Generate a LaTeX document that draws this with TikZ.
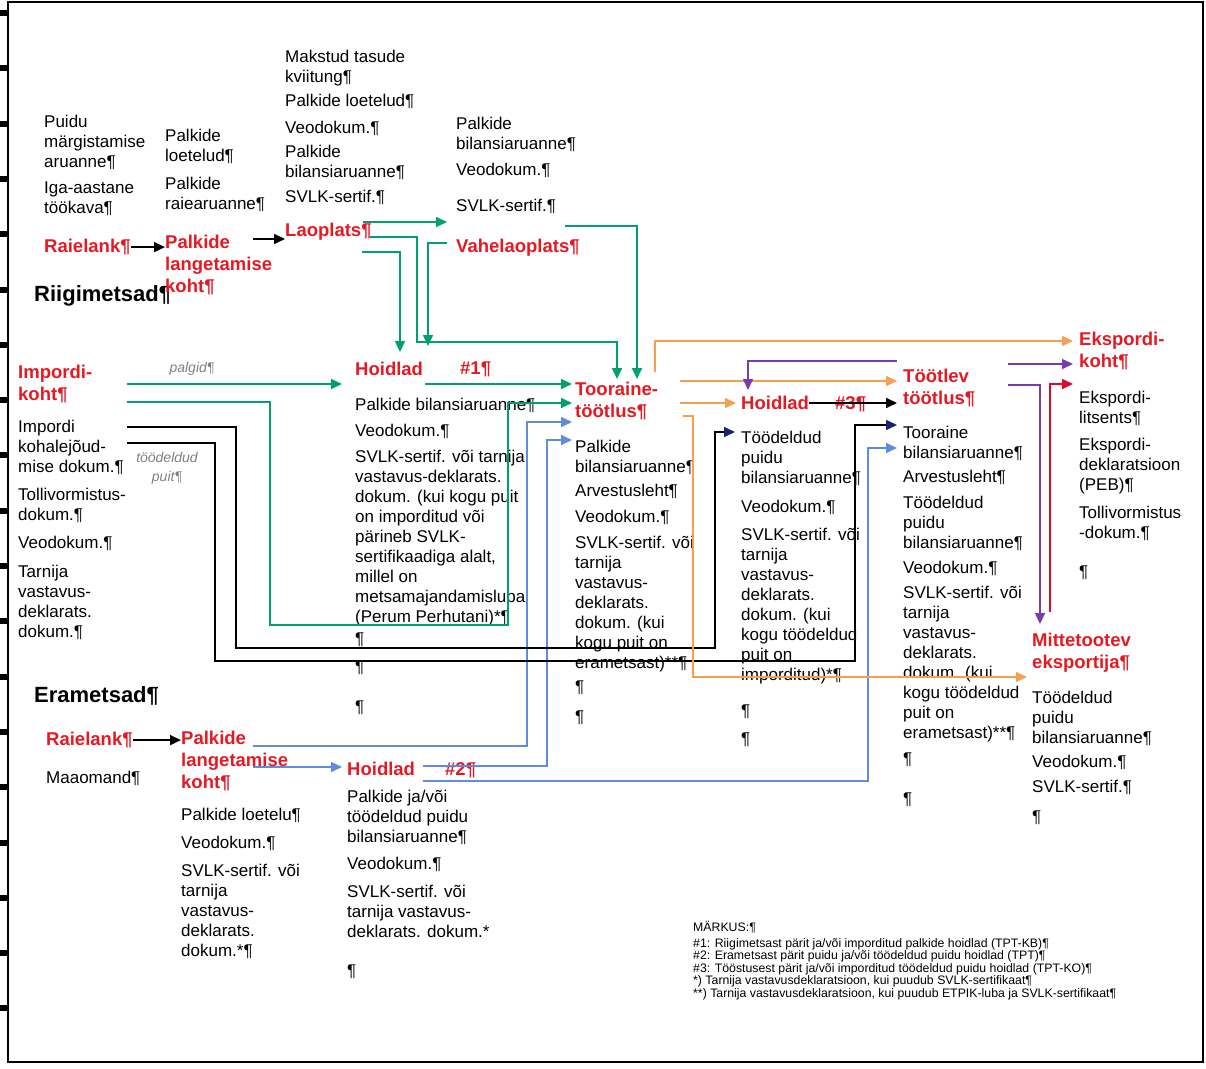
\documentclass[tikz,border=0pt]{standalone}
\usepackage{fontspec}
\setmainfont{Liberation Sans}
\usetikzlibrary{arrows.meta,calc}
\definecolor{lblred}{RGB}{230,25,35}
\definecolor{flowgreen}{RGB}{0,160,112}
\definecolor{flowblue}{RGB}{95,140,225}
\definecolor{floworange}{RGB}{245,160,80}
\definecolor{flowpurple}{RGB}{120,60,175}
\definecolor{flownavy}{RGB}{25,35,105}
\definecolor{flowred}{RGB}{220,10,40}
\tikzset{
  doc/.style={anchor=north west, inner sep=0pt, align=left, font=\fontsize{17}{20}\selectfont},
  site/.style={doc, text=lblred, font=\fontsize{18.5}{22}\selectfont\bfseries},
  owner/.style={doc, font=\fontsize{22}{24}\selectfont\bfseries},
  goods/.style={anchor=north, inner sep=0pt, align=center, text=gray, font=\fontsize{14}{19}\selectfont\itshape},
  remark/.style={doc, font=\fontsize{12.3}{12.5}\selectfont},
  flow/.style={line width=1.6pt, -{Triangle[length=11pt,width=10pt]}},
}
\begin{document}
\begin{tikzpicture}[x=1pt,y=-1pt]
\useasboundingbox (0,0) rectangle (1206,1068);
\draw[line width=1.5pt] (8,2) rectangle (1203,1062);
\foreach \i in {0,...,18}
  \fill (0,{10+55.3*\i}) rectangle (7,{16+55.3*\i});

% riigimetsad
\node[doc] (puidumark) at (44,115) {Puidu\\märgistamise\\aruanne¶};
\node[doc] (tookava) at (44,182) {Iga-aastane\\töökava¶};
\node[site] (raielankR) at (44,239) {Raielank¶};
\node[owner] (riigimetsad) at (34,285) {Riigimetsad¶};
\node[doc] (loetelud) at (165,129) {Palkide\\loetelud¶};
\node[doc] (raiearuanne) at (165,177) {Palkide\\raiearuanne¶};
\node[site] (langR) at (165,235) {Palkide\\langetamise\\koht¶};
\node[doc] (kviitung) at (285,50) {Makstud tasude\\kviitung¶};
\node[doc] (laoloetelud) at (285,94) {Palkide loetelud¶};
\node[doc] (laoveo) at (285,121) {Veodokum.¶};
\node[doc] (laobilanss) at (285,145) {Palkide\\bilansiaruanne¶};
\node[doc] (laosvlk) at (285,190) {SVLK-sertif.¶};
\node[site] (laoplats) at (285,223) {Laoplats¶};
\node[doc] (vbilanss) at (456,117) {Palkide\\bilansiaruanne¶};
\node[doc] (vveo) at (456,163) {Veodokum.¶};
\node[doc] (vsvlk) at (456,199) {SVLK-sertif.¶};
\node[site] (vahelao) at (456,239) {Vahelaoplats¶};

% import
\node[site] (impkoht) at (18,365) {Impordi-\\koht¶};
\node[goods] (palgid) at (192,362) {palgid¶};
\node[doc] (impdok) at (18,420) {Impordi\\kohalejõud-\\mise dokum.¶};
\node[goods] (toodpuit) at (167,452) {töödeldud\\puit¶};
\node[doc] (impTolli) at (18,488) {Tollivormistus-\\dokum.¶};
\node[doc] (impveo) at (18,536) {Veodokum.¶};
\node[doc] (imptarn) at (18,565) {Tarnija\\vastavus-\\deklarats.\\dokum.¶};

% hoidlad 1
\node[site] (hoidlad1) at (355,362) {Hoidlad};
\node[site] (hash1) at (460,362) {\#1¶};
\node[doc] (h1bil) at (355,398) {Palkide bilansiaruanne¶};
\node[doc] (h1veo) at (355,424) {Veodokum.¶};
\node[doc] (h1svlk) at (355,450) {SVLK-sertif. või tarnija\\vastavus-deklarats.\\dokum. (kui kogu puit\\on imporditud või\\pärineb SVLK-\\sertifikaadiga alalt,\\millel on\\metsamajandamisluba\\(Perum Perhutani)*¶};
\node[doc] (h1p1) at (355,633) {¶};
\node[doc] (h1p2) at (355,661) {¶};
\node[doc] (h1p3) at (355,701) {¶};

% tooraine
\node[site] (tooraine) at (575,382) {Tooraine-\\töötlus¶};
\node[doc] (tbil) at (575,440) {Palkide\\bilansiaruanne¶};
\node[doc] (tarv) at (575,484) {Arvestusleht¶};
\node[doc] (tveo) at (575,510) {Veodokum.¶};
\node[doc] (tsvlk) at (575,536) {SVLK-sertif. või\\tarnija\\vastavus-\\deklarats.\\dokum. (kui\\kogu puit on\\erametsast)**¶};
\node[doc] (tp1) at (575,681) {¶};
\node[doc] (tp2) at (575,711) {¶};

% hoidlad 3
\node[site] (hoidlad3) at (741,396) {Hoidlad};
\node[site] (hash3) at (835,396) {\#3¶};
\node[doc] (h3bil) at (741,431) {Töödeldud\\puidu\\bilansiaruanne¶};
\node[doc] (h3veo) at (741,500) {Veodokum.¶};
\node[doc] (h3svlk) at (741,528) {SVLK-sertif. või\\tarnija\\vastavus-\\deklarats.\\dokum. (kui\\kogu töödeldud\\puit on\\imporditud)*¶};
\node[doc] (h3p1) at (741,705) {¶};
\node[doc] (h3p2) at (741,733) {¶};

% tootlev
\node[site] (tootlev) at (903,369) {Töötlev\\töötlus¶};
\node[doc] (ttbil) at (903,426) {Tooraine\\bilansiaruanne¶};
\node[doc] (ttarv) at (903,470) {Arvestusleht¶};
\node[doc] (ttood) at (903,496) {Töödeldud\\puidu\\bilansiaruanne¶};
\node[doc] (ttveo) at (903,561) {Veodokum.¶};
\node[doc] (ttsvlk) at (903,586) {SVLK-sertif. või\\tarnija\\vastavus-\\deklarats.\\dokum. (kui\\kogu töödeldud\\puit on\\erametsast)**¶};
\node[doc] (ttp1) at (903,753) {¶};
\node[doc] (ttp2) at (903,793) {¶};

% eksport
\node[site] (ekspkoht) at (1079,332) {Ekspordi-\\koht¶};
\node[doc] (ekslits) at (1079,391) {Ekspordi-\\litsents¶};
\node[doc] (eksdekl) at (1079,438) {Ekspordi-\\deklaratsioon\\(PEB)¶};
\node[doc] (ekstolli) at (1079,506) {Tollivormistus\\-dokum.¶};
\node[doc] (eksp1) at (1079,566) {¶};
\node[site] (mitte) at (1032,633) {Mittetootev\\eksportija¶};
\node[doc] (mbil) at (1032,691) {Töödeldud\\puidu\\bilansiaruanne¶};
\node[doc] (mveo) at (1032,755) {Veodokum.¶};
\node[doc] (msvlk) at (1032,780) {SVLK-sertif.¶};
\node[doc] (mp1) at (1032,811) {¶};

% erametsad
\node[owner] (erametsad) at (34,686) {Erametsad¶};
\node[site] (raielankE) at (46,732) {Raielank¶};
\node[doc] (maaomand) at (46,771) {Maaomand¶};
\node[site] (langE) at (181,731) {Palkide\\langetamise\\koht¶};
\node[doc] (eloet) at (181,808) {Palkide loetelu¶};
\node[doc] (eveo) at (181,836) {Veodokum.¶};
\node[doc] (esvlk) at (181,864) {SVLK-sertif. või\\tarnija\\vastavus-\\deklarats.\\dokum.*¶};
\node[site] (hoidlad2) at (347,762) {Hoidlad};
\node[site] (hash2) at (445,762) {\#2¶};
\node[doc] (h2bil) at (347,790) {Palkide ja/või\\töödeldud puidu\\bilansiaruanne¶};
\node[doc] (h2veo) at (347,857) {Veodokum.¶};
\node[doc] (h2svlk) at (347,885) {SVLK-sertif. või\\tarnija vastavus-\\deklarats. dokum.*};
\node[doc] (h2p1) at (347,965) {¶};

\node[remark] (markus) at (693,921) {MÄRKUS:¶\\[3pt]
\#1: Riigimetsast pärit ja/või imporditud palkide hoidlad (TPT-KB)¶\\
\#2: Erametsast pärit puidu ja/või töödeldud puidu hoidlad (TPT)¶\\
\#3: Tööstusest pärit ja/või imporditud töödeldud puidu hoidlad (TPT-KO)¶\\
*) Tarnija vastavusdeklaratsioon, kui puudub SVLK-sertifikaat¶\\
**) Tarnija vastavusdeklaratsioon, kui puudub ETPIK-luba ja SVLK-sertifikaat¶};

% black
\coordinate (langRout) at (253,239);
\draw[flow] (raielankR.east) -- (raielankR.east -| langR.west);
\draw[flow] (langRout) -- (langRout -| laoplats.west);
\draw[flow] (raielankE.east) -- (raielankE.east -| langE.west);
\draw[flow] (hoidlad3.east) -- ($(hoidlad3.east -| tootlev.west)+(-6,0)$);

% green
\coordinate (laoA) at (363,222);
\coordinate (laoB) at (370,237);
\coordinate (laoC) at (362,252);
\coordinate (vahA) at (447,243);
\coordinate (vahB) at (565,226);
\coordinate (impA) at (127,384);
\coordinate (impB) at (127,402);
\coordinate (h1out) at (425,384);
\draw[flow, flowgreen] (laoA) -- (447,222);
\draw[flow, flowgreen] (laoB) -- (417,237) -- (417,342) -- (617,342) -- (617,379);
\draw[flow, flowgreen] (laoC) -- (400,252) -- (400,352);
\draw[flow, flowgreen] (vahA) -- (428,243) -- (428,346);
\draw[flow, flowgreen] (vahB) -- (637,226) -- (637,379);
\draw[flow, flowgreen] (impA) -- (342,384);
\draw[flow, flowgreen] (h1out) -- (572,384);
\draw[flow, flowgreen] (impB) -- (270,402) -- (270,625) -- (508,625) -- (508,403) -- (572,403);

% blue
\coordinate (langA) at (253,746);
\coordinate (langB) at (253,767);
\coordinate (h2A) at (423,766);
\coordinate (h2B) at (423,781);
\draw[flow, flowblue] (langA) -- (527,746) -- (527,422) -- (572,422);
\draw[flow, flowblue] (langB) -- (342,767);
\draw[flow, flowblue] (h2A) -- (547,766) -- (547,440) -- (572,440);
\draw[flow, flowblue] (h2B) -- (868,781) -- (868,448) -- (897,448);

% import, processed wood
\coordinate (impC) at (127,427);
\coordinate (impD) at (127,443);
\draw[line width=1.6pt, -{Triangle[length=11pt,width=10pt,color=flownavy]}] (impC) -- (236,427) -- (236,648) -- (715,648) -- (715,432) -- (735,432);
\draw[line width=1.6pt, -{Triangle[length=11pt,width=10pt,color=flownavy]}] (impD) -- (215,443) -- (215,661) -- (855,661) -- (855,425) -- (897,425);

% orange
\coordinate (tA) at (655,372);
\coordinate (tB) at (680,381);
\coordinate (tC) at (680,403);
\coordinate (tD) at (683,416);
\draw[flow, floworange] (tA) -- (655,341) -- (1073,341);
\draw[flow, floworange] (tB) -- (897,381);
\draw[flow, floworange] (tC) -- (736,403);
\draw[flow, floworange] (tD) -- (693,416) -- (693,677) -- (1027,677);

% purple, red
\coordinate (ttA) at (897,361);
\coordinate (ttB) at (1008,364);
\coordinate (ttC) at (1008,385);
\coordinate (mA) at (1050,612);
\draw[flow, flowpurple] (ttA) -- (748,361) -- (748,390);
\draw[flow, flowpurple] (ttB) -- (1073,364);
\draw[flow, flowpurple] (ttC) -- (1040,385) -- (1040,624);
\draw[flow, flowred] (mA) -- (1050,384) -- (1073,384);
\end{tikzpicture}
\end{document}
